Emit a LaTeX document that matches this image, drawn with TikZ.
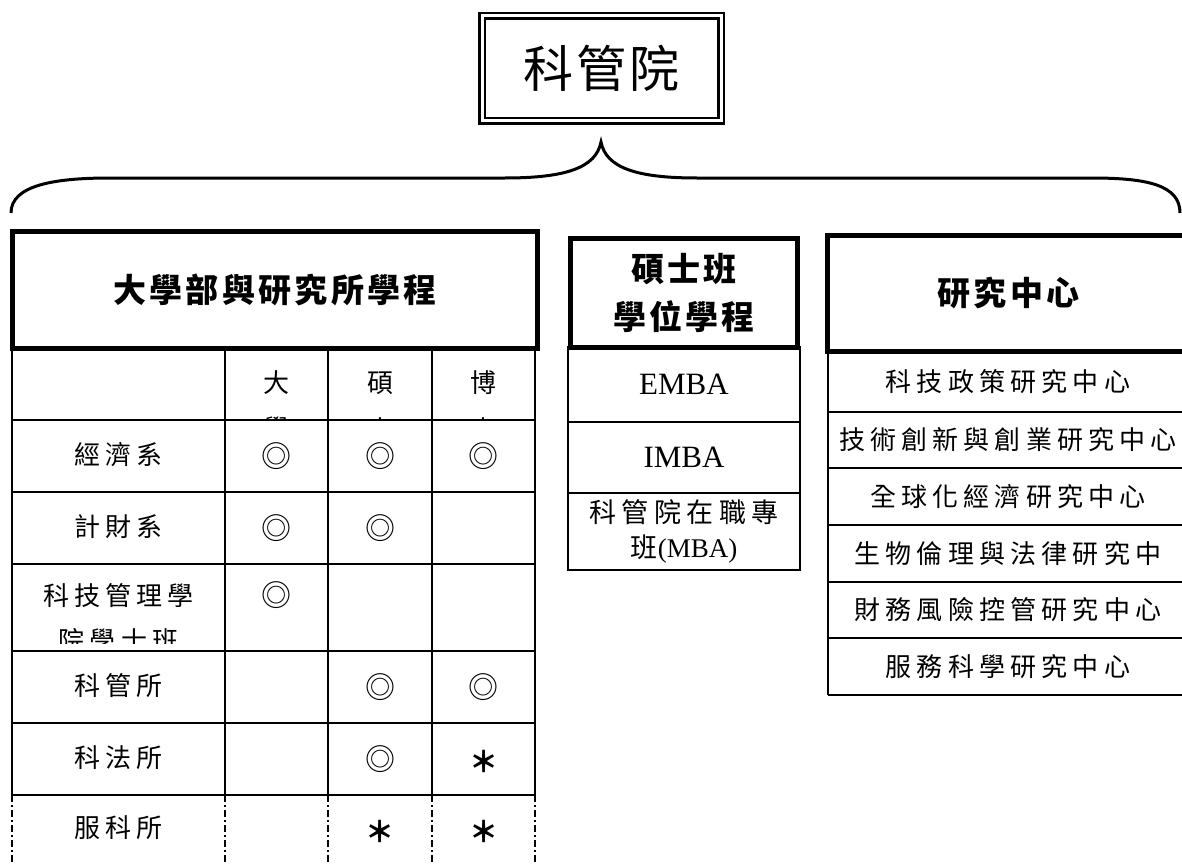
\documentclass[tikz,border=0pt]{standalone}
\usepackage{fontspec}
\setmainfont{Liberation Serif}
\newfontfamily\cjk[LetterSpace=20]{Noto Sans CJK TC}
\newfontfamily\cjkh[LetterSpace=10]{Noto Sans CJK TC}
\newfontfamily\cjkt[LetterSpace=6]{Noto Sans CJK TC}
\newfontfamily\cjks{Noto Sans CJK TC}
\begin{document}
\begin{tikzpicture}[x=1pt,y=-1pt,
  heavybox/.style={draw=black,line width=5pt,inner sep=0pt},
  thinbox/.style={draw=black,line width=2pt,inner sep=0pt},
  cellline/.style={line width=1.8pt},
  dashline/.style={line width=1.8pt,dash pattern=on 7pt off 3pt on 2pt off 3pt},
  body/.style={font=\cjk\fontsize{26}{44}\selectfont,inner sep=0pt},
  headfont/.style={font=\cjkh\bfseries\fontsize{33}{48}\selectfont,inner sep=0pt,align=center},
  latin/.style={font=\fontsize{31}{35}\selectfont,inner sep=0pt},
  ringmark/.style={font=\cjks\fontsize{30}{30}\selectfont,inner sep=0pt},
  starmark/.style={font=\cjks\bfseries\fontsize{29}{29}\selectfont,inner sep=0pt}]
\useasboundingbox (0,0) rectangle (1182,864);
\clip (0,0) rectangle (1182,864);
% title
\node[draw=black,line width=2.5pt,double,double distance=3pt,minimum width=239pt,minimum height=105pt,inner sep=0pt,
      font=\cjkt\fontsize{50}{50}\selectfont] (title) at (601.5,68.5) {\raisebox{-4pt}{科管院}};
% brace
\coordinate (bl) at (11,213);
\coordinate (br) at (1180,213);
\coordinate (tip) at (601,142);
\draw[line width=3pt] (bl) .. controls (11,185) and (55,178) .. (110,178) -- (505,178)
   .. controls (565,178) and (596,168) .. (tip)
   .. controls (606,168) and (637,178) .. (697,178) -- (1092,178)
   .. controls (1147,178) and (1180,185) .. (br);
% left heading
\node[heavybox,minimum width=525pt,minimum height=116.5pt,headfont] (lhead) at (275,290) {大學部與研究所學程};
% table grid
\draw[cellline] (12,348) -- (12,795);
\foreach \x in {225,328,432,535} \draw[cellline] (\x,348) -- (\x,795);
\foreach \y in {420,492,564,651,723,795} \draw[cellline] (12,\y) -- (535,\y);
\foreach \x in {12,225,328,432,535} \draw[dashline] (\x,795) -- (\x,870);
% header row (clipped)
\begin{scope}
\clip (12,350) rectangle (535,419);
\node[body] (hda) at (276.5,383) {大};
\node[body] (hdb) at (276.5,429) {學};
\node[body] (hma) at (380,383) {碩};
\node[body] (hmb) at (380,429) {士};
\node[body] (hpa) at (483.5,383) {博};
\node[body] (hpb) at (483.5,429) {士};
\end{scope}
% rows
\node[body] (r1) at (118.5,455) {經濟系};
\node[ringmark] (r1a) at (276.5,456) {◎};
\node[ringmark] (r1b) at (380,456) {◎};
\node[ringmark] (r1c) at (483.5,456) {◎};
\node[body] (r2) at (118.5,527) {計財系};
\node[ringmark] (r2a) at (276.5,528) {◎};
\node[ringmark] (r2b) at (380,528) {◎};
\begin{scope}
\clip (12,565) rectangle (225,643);
\node[body] (r3) at (118.5,596) {科技管理學};
\node[body] (r3b) at (118.5,641) {院學士班};
\end{scope}
\node[ringmark] (r3a) at (276.5,595) {◎};
\node[body] (r4) at (118.5,686) {科管所};
\node[ringmark] (r4b) at (380,687) {◎};
\node[ringmark] (r4c) at (483.5,687) {◎};
\node[body] (r5) at (118.5,758) {科法所};
\node[ringmark] (r5b) at (380,759) {◎};
\node[starmark] (r5c) at (483.5,761) {＊};
\node[body] (r6) at (118.5,828) {服科所};
\node[starmark] (r6b) at (380,831) {＊};
\node[starmark] (r6c) at (483.5,831) {＊};
% middle column
\node[heavybox,minimum width=227pt,minimum height=109pt,headfont] (mhead) at (684,293) {碩士班\\學位學程};
\node[thinbox,minimum width=232pt,minimum height=75pt,latin] (emba) at (684,384.5) {EMBA};
\node[thinbox,minimum width=232pt,minimum height=71pt,latin] (imba) at (684,457.5) {IMBA};
\node[thinbox,minimum width=232pt,minimum height=77pt,align=center,font=\fontsize{27}{35}\selectfont] (mba) at (684,531.5)
  {{\cjk 科管院在職專}\\{\cjk 班}(MBA)};
% right column
\node[heavybox,minimum width=362pt,minimum height=116pt,headfont] (rhead) at (1008.5,293.5) {研究中心};
\draw[cellline] (828,352) -- (828,695);
\foreach \y in {412,468,525,582,638,695} \draw[cellline] (828,\y) -- (1195,\y);
\node[body] (c1) at (1008,382) {科技政策研究中心};
\node[body] (c2) at (1008,440) {技術創新與創業研究中心};
\node[body] (c3) at (1008,496.5) {全球化經濟研究中心};
\node[body] (c4) at (1008,553.5) {生物倫理與法律研究中};
\node[body] (c5) at (1008,610) {財務風險控管研究中心};
\node[body] (c6) at (1008,666.5) {服務科學研究中心};
\end{tikzpicture}
\end{document}
